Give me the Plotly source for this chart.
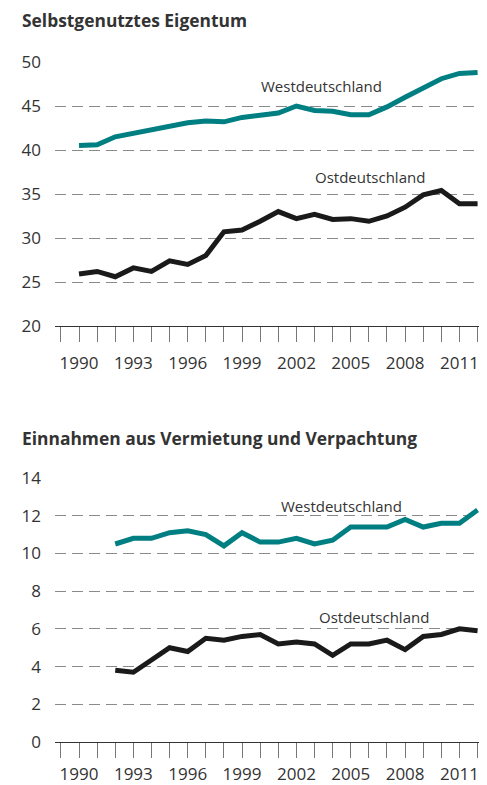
import plotly.graph_objects as go

years = list(range(1990, 2013))
west_eigentum = [40.5, 40.6, 41.5, 41.9, 42.3, 42.6, 43.1, 43.3, 43.2, 43.7, 44.0, 44.2,
                 45.0, 44.5, 44.4, 44.0, 44.0, 44.9, 46.0, 47.0, 48.1, 48.7, 48.8]
ost_eigentum = [25.9, 26.2, 25.6, 26.6, 26.2, 27.4, 27.0, 28.0, 30.7, 30.9, 31.9, 33.0,
                32.2, 32.7, 32.1, 32.2, 31.9, 32.5, 33.5, 34.9, 35.4, 33.9, 33.9]

years_miete = list(range(1992, 2013))
west_miete = [10.5, 10.8, 10.8, 11.1, 11.2, 11.0, 10.4, 11.1, 10.6, 10.6, 10.8,
              10.5, 10.7, 11.4, 11.4, 11.4, 11.8, 11.4, 11.6, 11.6, 12.3]
ost_miete = [3.8, 3.7, 4.35, 5.0, 4.8, 5.5, 5.4, 5.6, 5.7, 5.2, 5.3,
             5.2, 4.6, 5.2, 5.2, 5.4, 4.9, 5.6, 5.7, 6.0, 5.9]

titles = ["Selbstgenutztes Eigentum", "Einnahmen aus Vermietung und Verpachtung"]
y_ticks_top = [20, 25, 30, 35, 40, 45, 50]
y_ticks_bottom = [0, 2, 4, 6, 8, 10, 12, 14]

TEAL = "#007f82"
DARK = "#1a1a1a"
TXT = "#333333"
FONT = "Open Sans"

W, H = 487, 785
OFF = 8  # page body margin compensation


def py(p):
    return 1 - (p - OFF) / H


def px(p):
    return (p - OFF) / W


fig = go.Figure()
fig.add_trace(go.Scatter(x=years, y=west_eigentum, mode="lines",
                         line=dict(color=TEAL, width=5), xaxis="x", yaxis="y", showlegend=False))
fig.add_trace(go.Scatter(x=years, y=ost_eigentum, mode="lines",
                         line=dict(color=DARK, width=5), xaxis="x", yaxis="y", showlegend=False))
fig.add_trace(go.Scatter(x=years_miete, y=west_miete, mode="lines",
                         line=dict(color=TEAL, width=5), xaxis="x2", yaxis="y2", showlegend=False))
fig.add_trace(go.Scatter(x=years_miete, y=ost_miete, mode="lines",
                         line=dict(color=DARK, width=5), xaxis="x2", yaxis="y2", showlegend=False))

xr = [1988.675, 2012.52]
xdom = [px(55), px(487)]


def xaxis_cfg(anchor, standoff):
    return dict(domain=xdom, range=xr, anchor=anchor, showgrid=False, zeroline=False,
                automargin=False,
                showline=True, linecolor="#333333", linewidth=1,
                tickmode="linear", tick0=1990, dtick=3,
                ticks="outside", ticklen=15, tickcolor="#777777", tickwidth=1,
                ticklabelstandoff=standoff,
                minor=dict(dtick=1, tick0=1990, ticks="outside", ticklen=15,
                           tickcolor="#777777", tickwidth=1),
                tickfont=dict(family=FONT, size=17, color=TXT), fixedrange=True)


def yaxis_cfg(anchor, dom, rng, vals):
    return dict(domain=dom, range=rng, anchor=anchor, tickmode="array", tickvals=vals,
                automargin=False,
                showgrid=True, gridcolor="#8a8a8a", gridwidth=1, griddash="11px,6px",
                zeroline=False, showline=False, ticks="", ticklabelstandoff=13,
                tickfont=dict(family=FONT, size=17, color=TXT), fixedrange=True)


fig.update_layout(
    width=W, height=H, margin=dict(l=0, r=0, t=0, b=0, autoexpand=False),
    paper_bgcolor="white", plot_bgcolor="white",
    xaxis=xaxis_cfg("y", 7),
    yaxis=yaxis_cfg("x", [py(326), py(62)], [20, 50], y_ticks_top),
    xaxis2=xaxis_cfg("y2", 2),
    yaxis2=yaxis_cfg("x2", [py(742), py(478)], [0, 14], y_ticks_bottom),
)

fig.add_annotation(text="<b>" + titles[0] + "</b>", xref="paper", yref="paper",
                   x=px(21), y=py(20), xanchor="left", yanchor="middle", showarrow=False,
                   borderpad=0,
                   font=dict(family=FONT, size=17.4, color=TXT))
fig.add_annotation(text="<b>" + titles[1] + "</b>", xref="paper", yref="paper",
                   x=px(21), y=py(438), xanchor="left", yanchor="middle", showarrow=False,
                   borderpad=0,
                   font=dict(family=FONT, size=17.4, color=TXT))

labels = [
    ("Westdeutschland", "x", "y", 2003.4, 47.27),
    ("Ostdeutschland", "x", "y", 2006.06, 36.9),
    ("Westdeutschland", "x2", "y2", 2004.5, 12.49),
    ("Ostdeutschland", "x2", "y2", 2006.3, 6.65),
]
for t, xa, ya, xv, yv in labels:
    fig.add_annotation(text=t, xref=xa, yref=ya, x=xv, y=yv, showarrow=False,
                       xanchor="center", yanchor="middle",
                       font=dict(family=FONT, size=15, color=TXT))

fig.write_html("out.html")
